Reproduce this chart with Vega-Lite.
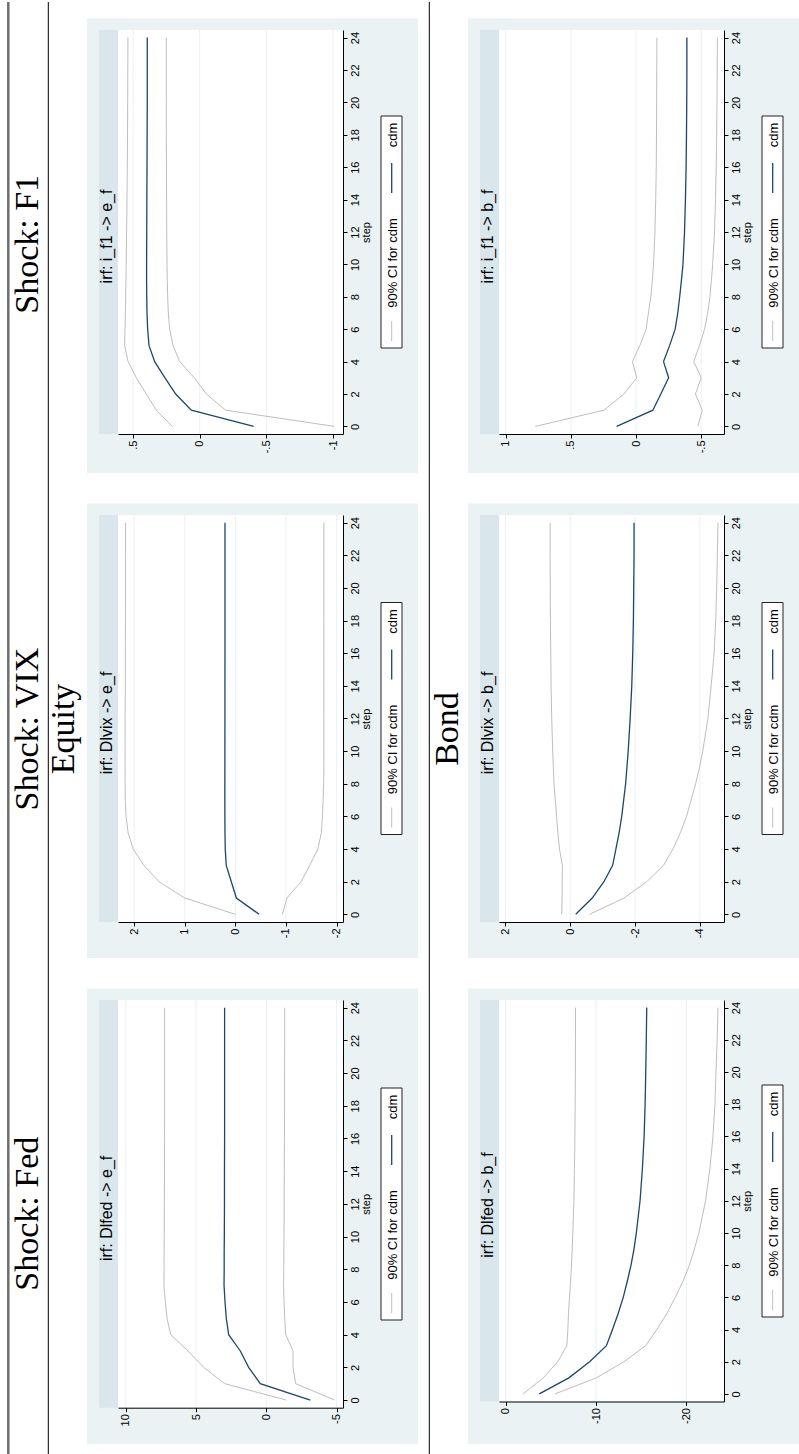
{
  "$schema": "https://vega.github.io/schema/vega-lite/v6.json",
  "background": "white",
  "padding": 0,
  "spacing": 0,
  "config": {
    "view": {"stroke": null},
    "axis": {"domainColor": "#000000", "domainWidth": 1, "tickColor": "#000000", "tickWidth": 1, "tickSize": 4, "labelFont": "Liberation Sans", "labelFontSize": 11, "labelColor": "#000000", "labelPadding": 2, "labelOverlap": false, "labelFlush": false, "grid": false, "titleFont": "Liberation Sans", "titleFontSize": 11, "titleFontWeight": "normal", "titleColor": "#000000"}
  },
  "datasets": {
    "f1e": [
      {"s":0,"hi":0.205,"m":-0.405,"lo":-1.01},{"s":1,"hi":0.325,"m":0.0625,"lo":-0.195},{"s":2,"hi":0.40,"m":0.18,"lo":-0.05},{"s":3,"hi":0.475,"m":0.26,"lo":0.04},{"s":4,"hi":0.537,"m":0.3375,"lo":0.15},{"s":5,"hi":0.5625,"m":0.38,"lo":0.20},{"s":6,"hi":0.56,"m":0.39,"lo":0.225},{"s":7,"hi":0.557,"m":0.395,"lo":0.235},{"s":8,"hi":0.555,"m":0.397,"lo":0.24},{"s":9,"hi":0.553,"m":0.398,"lo":0.243},{"s":10,"hi":0.551,"m":0.398,"lo":0.245},{"s":12,"hi":0.548,"m":0.397,"lo":0.247},{"s":14,"hi":0.545,"m":0.396,"lo":0.248},{"s":16,"hi":0.543,"m":0.395,"lo":0.249},{"s":18,"hi":0.541,"m":0.394,"lo":0.25},{"s":20,"hi":0.54,"m":0.393,"lo":0.25},{"s":22,"hi":0.539,"m":0.393,"lo":0.25},{"s":24,"hi":0.538,"m":0.393,"lo":0.25}
    ],
    "f1b": [
      {"s":0,"hi":0.773,"m":0.149,"lo":-0.474},{"s":1,"hi":0.247,"m":-0.129,"lo":-0.508},{"s":2,"hi":0.093,"m":-0.19,"lo":-0.456},{"s":3,"hi":-0.005,"m":-0.25,"lo":-0.5},{"s":4,"hi":0.028,"m":-0.211,"lo":-0.443},{"s":5,"hi":-0.03,"m":-0.258,"lo":-0.487},{"s":6,"hi":-0.077,"m":-0.30,"lo":-0.526},{"s":7,"hi":-0.095,"m":-0.32,"lo":-0.55},{"s":8,"hi":-0.113,"m":-0.335,"lo":-0.567},{"s":9,"hi":-0.125,"m":-0.348,"lo":-0.578},{"s":10,"hi":-0.134,"m":-0.36,"lo":-0.588},{"s":12,"hi":-0.145,"m":-0.372,"lo":-0.602},{"s":14,"hi":-0.151,"m":-0.379,"lo":-0.61},{"s":16,"hi":-0.155,"m":-0.384,"lo":-0.615},{"s":18,"hi":-0.157,"m":-0.387,"lo":-0.619},{"s":20,"hi":-0.158,"m":-0.389,"lo":-0.621},{"s":22,"hi":-0.159,"m":-0.39,"lo":-0.623},{"s":24,"hi":-0.16,"m":-0.39,"lo":-0.624}
    ],
    "ve": [
      {"s":0,"hi":0.0,"m":-0.47,"lo":-0.93},{"s":1,"hi":1.0,"m":-0.02,"lo":-1.02},{"s":2,"hi":1.51,"m":0.08,"lo":-1.30},{"s":3,"hi":1.81,"m":0.18,"lo":-1.47},{"s":4,"hi":2.02,"m":0.20,"lo":-1.63},{"s":5,"hi":2.12,"m":0.205,"lo":-1.70},{"s":6,"hi":2.16,"m":0.207,"lo":-1.72},{"s":7,"hi":2.175,"m":0.208,"lo":-1.735},{"s":8,"hi":2.18,"m":0.208,"lo":-1.745},{"s":9,"hi":2.18,"m":0.207,"lo":-1.75},{"s":10,"hi":2.18,"m":0.207,"lo":-1.75},{"s":12,"hi":2.18,"m":0.206,"lo":-1.75},{"s":14,"hi":2.175,"m":0.206,"lo":-1.75},{"s":16,"hi":2.175,"m":0.205,"lo":-1.75},{"s":18,"hi":2.172,"m":0.205,"lo":-1.75},{"s":20,"hi":2.171,"m":0.205,"lo":-1.75},{"s":22,"hi":2.17,"m":0.205,"lo":-1.75},{"s":24,"hi":2.17,"m":0.205,"lo":-1.75}
    ],
    "vb": [
      {"s":0,"hi":0.26,"m":-0.17,"lo":-0.60},{"s":1,"hi":0.25,"m":-0.68,"lo":-1.66},{"s":2,"hi":0.25,"m":-1.04,"lo":-2.36},{"s":3,"hi":0.24,"m":-1.31,"lo":-2.88},{"s":4,"hi":0.33,"m":-1.41,"lo":-3.17},{"s":5,"hi":0.38,"m":-1.51,"lo":-3.40},{"s":6,"hi":0.42,"m":-1.59,"lo":-3.59},{"s":7,"hi":0.46,"m":-1.65,"lo":-3.73},{"s":8,"hi":0.50,"m":-1.71,"lo":-3.87},{"s":9,"hi":0.52,"m":-1.75,"lo":-3.99},{"s":10,"hi":0.54,"m":-1.79,"lo":-4.09},{"s":12,"hi":0.57,"m":-1.85,"lo":-4.25},{"s":14,"hi":0.59,"m":-1.90,"lo":-4.35},{"s":16,"hi":0.60,"m":-1.93,"lo":-4.44},{"s":18,"hi":0.61,"m":-1.95,"lo":-4.49},{"s":20,"hi":0.615,"m":-1.96,"lo":-4.52},{"s":22,"hi":0.62,"m":-1.97,"lo":-4.54},{"s":24,"hi":0.62,"m":-1.97,"lo":-4.56}
    ],
    "fe": [
      {"s":0,"hi":-1.42,"m":-3.13,"lo":-4.87},{"s":1,"hi":2.97,"m":0.43,"lo":-2.09},{"s":2,"hi":4.46,"m":1.26,"lo":-1.90},{"s":3,"hi":5.58,"m":1.85,"lo":-1.90},{"s":4,"hi":6.81,"m":2.68,"lo":-1.38},{"s":5,"hi":7.07,"m":2.85,"lo":-1.31},{"s":6,"hi":7.19,"m":2.94,"lo":-1.26},{"s":7,"hi":7.29,"m":3.01,"lo":-1.23},{"s":8,"hi":7.28,"m":3.0,"lo":-1.24},{"s":9,"hi":7.28,"m":3.0,"lo":-1.25},{"s":10,"hi":7.27,"m":2.99,"lo":-1.26},{"s":12,"hi":7.26,"m":2.98,"lo":-1.27},{"s":14,"hi":7.25,"m":2.98,"lo":-1.28},{"s":16,"hi":7.25,"m":2.97,"lo":-1.29},{"s":18,"hi":7.24,"m":2.97,"lo":-1.30},{"s":20,"hi":7.24,"m":2.97,"lo":-1.30},{"s":22,"hi":7.24,"m":2.97,"lo":-1.31},{"s":24,"hi":7.24,"m":2.97,"lo":-1.31}
    ],
    "fb": [
      {"s":0,"hi":-1.93,"m":-3.72,"lo":-5.46},{"s":1,"hi":-4.16,"m":-6.99,"lo":-10.04},{"s":2,"hi":-5.76,"m":-9.29,"lo":-13.09},{"s":3,"hi":-6.77,"m":-11.15,"lo":-15.50},{"s":4,"hi":-6.88,"m":-11.82,"lo":-16.73},{"s":5,"hi":-6.95,"m":-12.45,"lo":-17.84},{"s":6,"hi":-7.06,"m":-13.01,"lo":-18.77},{"s":7,"hi":-7.18,"m":-13.46,"lo":-19.63},{"s":8,"hi":-7.29,"m":-13.87,"lo":-20.33},{"s":9,"hi":-7.36,"m":-14.20,"lo":-20.89},{"s":10,"hi":-7.43,"m":-14.46,"lo":-21.38},{"s":12,"hi":-7.55,"m":-14.87,"lo":-22.12},{"s":14,"hi":-7.61,"m":-15.13,"lo":-22.60},{"s":16,"hi":-7.66,"m":-15.32,"lo":-22.94},{"s":18,"hi":-7.69,"m":-15.43,"lo":-23.16},{"s":20,"hi":-7.71,"m":-15.50,"lo":-23.27},{"s":22,"hi":-7.72,"m":-15.56,"lo":-23.40},{"s":24,"hi":-7.73,"m":-15.61,"lo":-23.49}
    ]
  },
  "hconcat": [
    {
      "width": 87, "height": 1454,
      "resolve": {"scale": {"x": "independent", "y": "independent"}},
      "layer": [
        {"data": {"values": [{}]}, "mark": {"type": "rule", "stroke": "#6E6E6E", "strokeWidth": 2.5},
         "encoding": {"x": {"datum": 8.3, "type": "quantitative", "scale": {"domain": [0, 87], "range": [0, 87], "nice": false}, "axis": null},
                      "y": {"datum": 0, "type": "quantitative", "scale": {"domain": [0, 1454], "range": [0, 1454], "nice": false}, "axis": null},
                      "y2": {"datum": 1454}}},
        {"data": {"values": [{}]}, "mark": {"type": "rule", "stroke": "#000000", "strokeWidth": 1},
         "encoding": {"x": {"datum": 48.3, "type": "quantitative", "scale": {"domain": [0, 87], "range": [0, 87], "nice": false}, "axis": null},
                      "y": {"datum": 0, "type": "quantitative", "scale": {"domain": [0, 1454], "range": [0, 1454], "nice": false}, "axis": null},
                      "y2": {"datum": 1454}}},
        {"data": {"values": [{"shock": "Shock: F1"}, {"shock": "Shock: VIX"}, {"shock": "Shock: Fed"}]},
         "mark": {"type": "text", "angle": 270, "font": "Liberation Serif", "fontSize": 34, "align": "center", "baseline": "alphabetic", "color": "#000000"},
         "encoding": {"x": {"datum": 37.7, "type": "quantitative", "scale": {"domain": [0, 87], "range": [0, 87], "nice": false}, "axis": null},
                      "y": {"field": "shock", "type": "nominal", "sort": null, "scale": {"type": "point", "range": [0, 1454], "padding": 0.5}, "axis": null},
                      "text": {"field": "shock"}}},
        {"data": {"values": [{"row": "Equity"}]},
         "mark": {"type": "text", "angle": 270, "font": "Liberation Serif", "fontSize": 34, "align": "center", "baseline": "alphabetic", "color": "#000000"},
         "encoding": {"x": {"datum": 73.5, "type": "quantitative", "scale": {"domain": [0, 87], "range": [0, 87], "nice": false}, "axis": null},
                      "y": {"field": "row", "type": "nominal", "scale": {"type": "point", "range": [0, 1454], "padding": 0.5}, "axis": null},
                      "text": {"field": "row"}}}
      ]
    },
    {
      "spacing": 0,
      "vconcat": [
        {
          "width": 331, "height": 485,
          "resolve": {"scale": {"x": "independent", "y": "independent"}},
          "layer": [
            {"data": {"values": [{}]}, "layer": [
              {"mark": {"type": "rect", "fill": "#EAF2F3"}, "encoding": {"x": {"datum": 0, "type": "quantitative", "scale": {"domain": [0, 331], "range": [0, 331], "nice": false}, "axis": null}, "x2": {"datum": 331}, "y": {"datum": 16.5, "type": "quantitative", "scale": {"domain": [0, 485], "range": [0, 485], "nice": false}, "axis": null}, "y2": {"datum": 471}}},
              {"mark": {"type": "rect", "fill": "#D9E6EB"}, "encoding": {"x": {"datum": 12, "type": "quantitative"}, "x2": {"datum": 31}, "y": {"datum": 28, "type": "quantitative"}, "y2": {"datum": 432}}},
              {"mark": {"type": "rect", "fill": "#FFFFFF", "stroke": "#222222", "strokeWidth": 1}, "encoding": {"x": {"datum": 294, "type": "quantitative"}, "x2": {"datum": 315}, "y": {"datum": 114, "type": "quantitative"}, "y2": {"datum": 346}}},
              {"mark": {"type": "rule", "stroke": "#BEBEBE", "strokeWidth": 1}, "encoding": {"x": {"datum": 304.7, "type": "quantitative"}, "y": {"datum": 319, "type": "quantitative"}, "y2": {"datum": 339}}},
              {"mark": {"type": "rule", "stroke": "#1A476F", "strokeWidth": 1.3}, "encoding": {"x": {"datum": 304.7, "type": "quantitative"}, "y": {"datum": 161, "type": "quantitative"}, "y2": {"datum": 191}}},
              {"mark": {"type": "text", "angle": 270, "font": "Liberation Sans", "fontSize": 13, "align": "center", "baseline": "alphabetic", "color": "#000000"}, "encoding": {"x": {"datum": 309.5, "type": "quantitative"}, "y": {"datum": 261, "type": "quantitative"}, "text": {"value": "90% CI for cdm"}}},
              {"mark": {"type": "text", "angle": 270, "font": "Liberation Sans", "fontSize": 13, "align": "center", "baseline": "alphabetic", "color": "#000000"}, "encoding": {"x": {"datum": 309.5, "type": "quantitative"}, "y": {"datum": 133, "type": "quantitative"}, "text": {"value": "cdm"}}},
              {"mark": {"type": "text", "angle": 270, "font": "Liberation Sans", "fontSize": 16, "align": "center", "baseline": "alphabetic", "color": "#000000"}, "encoding": {"x": {"datum": 24.5, "type": "quantitative"}, "y": {"datum": 234.5, "type": "quantitative"}, "text": {"value": "irf: i_f1 -> e_f"}}}
            ]},
            {"data": {"name": "f1e"}, "layer": [
              {"data": {"values": [{}]}, "mark": {"type": "rect", "fill": "#FFFFFF"},
               "encoding": {
                 "x": {"datum": -1.075, "type": "quantitative", "scale": {"domain": [-1.075, 0.6125], "range": [256, 31], "nice": false, "zero": false},
                       "axis": {"zindex": 1, "orient": "bottom", "offset": -53, "values": [0.5, 0, -0.5, -1], "labelAngle": 270, "labelAlign": "right", "labelBaseline": "middle", "title": null, "labelExpr": "replace(toString(datum.value), regexp('^(-?)0[.]'), '$1.')"}},
                 "x2": {"datum": 0.6125},
                 "y": {"datum": -0.47, "type": "quantitative", "scale": {"domain": [-0.47, 24.47], "range": [432, 28], "nice": false, "zero": false},
                       "axis": {"zindex": 1, "orient": "right", "offset": -75, "values": [0,2,4,6,8,10,12,14,16,18,20,22,24], "labelAngle": 270, "labelAlign": "center", "labelBaseline": "top", "title": "step", "titleAngle": 270, "titleBaseline": "top", "titlePadding": 0}},
                 "y2": {"datum": 24.47}}},
              {"data": {"values": [{"v": 0.5}, {"v": 0}, {"v": -0.5}, {"v": -1}]}, "mark": {"type": "rule", "stroke": "#EAF2F3", "strokeWidth": 1},
               "encoding": {"x": {"field": "v", "type": "quantitative", "title": null}, "y": {"datum": -0.47, "type": "quantitative"}, "y2": {"datum": 24.47}}},
              {"mark": {"type": "line", "stroke": "#BEBEBE", "strokeWidth": 1}, "encoding": {"x": {"field": "hi", "type": "quantitative", "title": null}, "y": {"field": "s", "type": "quantitative", "title": "step"}, "order": {"field": "s", "type": "quantitative"}}},
              {"mark": {"type": "line", "stroke": "#BEBEBE", "strokeWidth": 1}, "encoding": {"x": {"field": "lo", "type": "quantitative", "title": null}, "y": {"field": "s", "type": "quantitative", "title": "step"}, "order": {"field": "s", "type": "quantitative"}}},
              {"mark": {"type": "line", "stroke": "#1A476F", "strokeWidth": 1.3}, "encoding": {"x": {"field": "m", "type": "quantitative", "title": null}, "y": {"field": "s", "type": "quantitative", "title": "step"}, "order": {"field": "s", "type": "quantitative"}}}
            ]}
          ]
        },
        {
          "width": 331, "height": 485,
          "resolve": {"scale": {"x": "independent", "y": "independent"}},
          "layer": [
            {"data": {"values": [{}]}, "layer": [
              {"mark": {"type": "rect", "fill": "#EAF2F3"}, "encoding": {"x": {"datum": 0, "type": "quantitative", "scale": {"domain": [0, 331], "range": [0, 331], "nice": false}, "axis": null}, "x2": {"datum": 331}, "y": {"datum": 16.5, "type": "quantitative", "scale": {"domain": [0, 485], "range": [0, 485], "nice": false}, "axis": null}, "y2": {"datum": 471}}},
              {"mark": {"type": "rect", "fill": "#D9E6EB"}, "encoding": {"x": {"datum": 12, "type": "quantitative"}, "x2": {"datum": 31}, "y": {"datum": 28, "type": "quantitative"}, "y2": {"datum": 435}}},
              {"mark": {"type": "rect", "fill": "#FFFFFF", "stroke": "#222222", "strokeWidth": 1}, "encoding": {"x": {"datum": 294, "type": "quantitative"}, "x2": {"datum": 315}, "y": {"datum": 115.5, "type": "quantitative"}, "y2": {"datum": 347.5}}},
              {"mark": {"type": "rule", "stroke": "#BEBEBE", "strokeWidth": 1}, "encoding": {"x": {"datum": 304.7, "type": "quantitative"}, "y": {"datum": 320.5, "type": "quantitative"}, "y2": {"datum": 340.5}}},
              {"mark": {"type": "rule", "stroke": "#1A476F", "strokeWidth": 1.3}, "encoding": {"x": {"datum": 304.7, "type": "quantitative"}, "y": {"datum": 162.5, "type": "quantitative"}, "y2": {"datum": 192.5}}},
              {"mark": {"type": "text", "angle": 270, "font": "Liberation Sans", "fontSize": 13, "align": "center", "baseline": "alphabetic", "color": "#000000"}, "encoding": {"x": {"datum": 309.5, "type": "quantitative"}, "y": {"datum": 262.5, "type": "quantitative"}, "text": {"value": "90% CI for cdm"}}},
              {"mark": {"type": "text", "angle": 270, "font": "Liberation Sans", "fontSize": 13, "align": "center", "baseline": "alphabetic", "color": "#000000"}, "encoding": {"x": {"datum": 309.5, "type": "quantitative"}, "y": {"datum": 134.5, "type": "quantitative"}, "text": {"value": "cdm"}}},
              {"mark": {"type": "text", "angle": 270, "font": "Liberation Sans", "fontSize": 16, "align": "center", "baseline": "alphabetic", "color": "#000000"}, "encoding": {"x": {"datum": 24.5, "type": "quantitative"}, "y": {"datum": 236, "type": "quantitative"}, "text": {"value": "irf: Dlvix -> e_f"}}}
            ]},
            {"data": {"name": "ve"}, "layer": [
              {"data": {"values": [{}]}, "mark": {"type": "rect", "fill": "#FFFFFF"},
               "encoding": {
                 "x": {"datum": -2.128, "type": "quantitative", "scale": {"domain": [-2.128, 2.32], "range": [256, 31], "nice": false, "zero": false},
                       "axis": {"zindex": 1, "orient": "bottom", "offset": -50, "values": [2, 1, 0, -1, -2], "labelAngle": 270, "labelAlign": "right", "labelBaseline": "middle", "title": null, "labelExpr": "replace(toString(datum.value), regexp('^(-?)0[.]'), '$1.')"}},
                 "x2": {"datum": 2.32},
                 "y": {"datum": -0.47, "type": "quantitative", "scale": {"domain": [-0.47, 24.47], "range": [435, 28], "nice": false, "zero": false},
                       "axis": {"zindex": 1, "orient": "right", "offset": -75, "values": [0,2,4,6,8,10,12,14,16,18,20,22,24], "labelAngle": 270, "labelAlign": "center", "labelBaseline": "top", "title": "step", "titleAngle": 270, "titleBaseline": "top", "titlePadding": 0}},
                 "y2": {"datum": 24.47}}},
              {"data": {"values": [{"v": 2}, {"v": 1}, {"v": 0}, {"v": -1}, {"v": -2}]}, "mark": {"type": "rule", "stroke": "#EAF2F3", "strokeWidth": 1},
               "encoding": {"x": {"field": "v", "type": "quantitative", "title": null}, "y": {"datum": -0.47, "type": "quantitative"}, "y2": {"datum": 24.47}}},
              {"mark": {"type": "line", "stroke": "#BEBEBE", "strokeWidth": 1}, "encoding": {"x": {"field": "hi", "type": "quantitative", "title": null}, "y": {"field": "s", "type": "quantitative", "title": "step"}, "order": {"field": "s", "type": "quantitative"}}},
              {"mark": {"type": "line", "stroke": "#BEBEBE", "strokeWidth": 1}, "encoding": {"x": {"field": "lo", "type": "quantitative", "title": null}, "y": {"field": "s", "type": "quantitative", "title": "step"}, "order": {"field": "s", "type": "quantitative"}}},
              {"mark": {"type": "line", "stroke": "#1A476F", "strokeWidth": 1.3}, "encoding": {"x": {"field": "m", "type": "quantitative", "title": null}, "y": {"field": "s", "type": "quantitative", "title": "step"}, "order": {"field": "s", "type": "quantitative"}}}
            ]}
          ]
        },
        {
          "width": 331, "height": 485,
          "resolve": {"scale": {"x": "independent", "y": "independent"}},
          "layer": [
            {"data": {"values": [{}]}, "layer": [
              {"mark": {"type": "rect", "fill": "#EAF2F3"}, "encoding": {"x": {"datum": 0, "type": "quantitative", "scale": {"domain": [0, 331], "range": [0, 331], "nice": false}, "axis": null}, "x2": {"datum": 331}, "y": {"datum": 16.5, "type": "quantitative", "scale": {"domain": [0, 485], "range": [0, 485], "nice": false}, "axis": null}, "y2": {"datum": 472}}},
              {"mark": {"type": "rect", "fill": "#D9E6EB"}, "encoding": {"x": {"datum": 12, "type": "quantitative"}, "x2": {"datum": 31}, "y": {"datum": 28, "type": "quantitative"}, "y2": {"datum": 435.7}}},
              {"mark": {"type": "rect", "fill": "#FFFFFF", "stroke": "#222222", "strokeWidth": 1}, "encoding": {"x": {"datum": 294, "type": "quantitative"}, "x2": {"datum": 315}, "y": {"datum": 116, "type": "quantitative"}, "y2": {"datum": 348}}},
              {"mark": {"type": "rule", "stroke": "#BEBEBE", "strokeWidth": 1}, "encoding": {"x": {"datum": 304.7, "type": "quantitative"}, "y": {"datum": 321, "type": "quantitative"}, "y2": {"datum": 341}}},
              {"mark": {"type": "rule", "stroke": "#1A476F", "strokeWidth": 1.3}, "encoding": {"x": {"datum": 304.7, "type": "quantitative"}, "y": {"datum": 163, "type": "quantitative"}, "y2": {"datum": 193}}},
              {"mark": {"type": "text", "angle": 270, "font": "Liberation Sans", "fontSize": 13, "align": "center", "baseline": "alphabetic", "color": "#000000"}, "encoding": {"x": {"datum": 309.5, "type": "quantitative"}, "y": {"datum": 263, "type": "quantitative"}, "text": {"value": "90% CI for cdm"}}},
              {"mark": {"type": "text", "angle": 270, "font": "Liberation Sans", "fontSize": 13, "align": "center", "baseline": "alphabetic", "color": "#000000"}, "encoding": {"x": {"datum": 309.5, "type": "quantitative"}, "y": {"datum": 135, "type": "quantitative"}, "text": {"value": "cdm"}}},
              {"mark": {"type": "text", "angle": 270, "font": "Liberation Sans", "fontSize": 16, "align": "center", "baseline": "alphabetic", "color": "#000000"}, "encoding": {"x": {"datum": 24.5, "type": "quantitative"}, "y": {"datum": 236.4, "type": "quantitative"}, "text": {"value": "irf: Dlfed -> e_f"}}}
            ]},
            {"data": {"name": "fe"}, "layer": [
              {"data": {"values": [{}]}, "mark": {"type": "rect", "fill": "#FFFFFF"},
               "encoding": {
                 "x": {"datum": -5.46, "type": "quantitative", "scale": {"domain": [-5.46, 10.56], "range": [256, 31], "nice": false, "zero": false},
                       "axis": {"zindex": 1, "orient": "bottom", "offset": -49.3, "values": [10, 5, 0, -5], "labelAngle": 270, "labelAlign": "right", "labelBaseline": "middle", "title": null, "labelExpr": "replace(toString(datum.value), regexp('^(-?)0[.]'), '$1.')"}},
                 "x2": {"datum": 10.56},
                 "y": {"datum": -0.47, "type": "quantitative", "scale": {"domain": [-0.47, 24.47], "range": [435.7, 28], "nice": false, "zero": false},
                       "axis": {"zindex": 1, "orient": "right", "offset": -75, "values": [0,2,4,6,8,10,12,14,16,18,20,22,24], "labelAngle": 270, "labelAlign": "center", "labelBaseline": "top", "title": "step", "titleAngle": 270, "titleBaseline": "top", "titlePadding": 0}},
                 "y2": {"datum": 24.47}}},
              {"data": {"values": [{"v": 10}, {"v": 5}, {"v": 0}, {"v": -5}]}, "mark": {"type": "rule", "stroke": "#EAF2F3", "strokeWidth": 1},
               "encoding": {"x": {"field": "v", "type": "quantitative", "title": null}, "y": {"datum": -0.47, "type": "quantitative"}, "y2": {"datum": 24.47}}},
              {"mark": {"type": "line", "stroke": "#BEBEBE", "strokeWidth": 1}, "encoding": {"x": {"field": "hi", "type": "quantitative", "title": null}, "y": {"field": "s", "type": "quantitative", "title": "step"}, "order": {"field": "s", "type": "quantitative"}}},
              {"mark": {"type": "line", "stroke": "#BEBEBE", "strokeWidth": 1}, "encoding": {"x": {"field": "lo", "type": "quantitative", "title": null}, "y": {"field": "s", "type": "quantitative", "title": "step"}, "order": {"field": "s", "type": "quantitative"}}},
              {"mark": {"type": "line", "stroke": "#1A476F", "strokeWidth": 1.3}, "encoding": {"x": {"field": "m", "type": "quantitative", "title": null}, "y": {"field": "s", "type": "quantitative", "title": "step"}, "order": {"field": "s", "type": "quantitative"}}}
            ]}
          ]
        }
      ]
    },
    {
      "width": 50, "height": 1454,
      "resolve": {"scale": {"x": "independent", "y": "independent"}},
      "layer": [
        {"data": {"values": [{}]}, "mark": {"type": "rule", "stroke": "#000000", "strokeWidth": 1},
         "encoding": {"x": {"datum": 11.3, "type": "quantitative", "scale": {"domain": [0, 50], "range": [0, 50], "nice": false}, "axis": null},
                      "y": {"datum": 0, "type": "quantitative", "scale": {"domain": [0, 1454], "range": [0, 1454], "nice": false}, "axis": null},
                      "y2": {"datum": 1454}}},
        {"data": {"values": [{"row": "Bond"}]},
         "mark": {"type": "text", "angle": 270, "font": "Liberation Serif", "fontSize": 34, "align": "center", "baseline": "alphabetic", "color": "#000000"},
         "encoding": {"x": {"datum": 40.3, "type": "quantitative", "scale": {"domain": [0, 50], "range": [0, 50], "nice": false}, "axis": null},
                      "y": {"field": "row", "type": "nominal", "scale": {"type": "point", "range": [0, 1454], "padding": 0.5}, "axis": null},
                      "text": {"field": "row"}}}
      ]
    },
    {
      "spacing": 0,
      "vconcat": [
        {
          "width": 331, "height": 485,
          "resolve": {"scale": {"x": "independent", "y": "independent"}},
          "layer": [
            {"data": {"values": [{}]}, "layer": [
              {"mark": {"type": "rect", "fill": "#EAF2F3"}, "encoding": {"x": {"datum": 0, "type": "quantitative", "scale": {"domain": [0, 331], "range": [0, 331], "nice": false}, "axis": null}, "x2": {"datum": 331}, "y": {"datum": 16.5, "type": "quantitative", "scale": {"domain": [0, 485], "range": [0, 485], "nice": false}, "axis": null}, "y2": {"datum": 471}}},
              {"mark": {"type": "rect", "fill": "#D9E6EB"}, "encoding": {"x": {"datum": 12, "type": "quantitative"}, "x2": {"datum": 31}, "y": {"datum": 28, "type": "quantitative"}, "y2": {"datum": 432}}},
              {"mark": {"type": "rect", "fill": "#FFFFFF", "stroke": "#222222", "strokeWidth": 1}, "encoding": {"x": {"datum": 294, "type": "quantitative"}, "x2": {"datum": 315}, "y": {"datum": 114, "type": "quantitative"}, "y2": {"datum": 346}}},
              {"mark": {"type": "rule", "stroke": "#BEBEBE", "strokeWidth": 1}, "encoding": {"x": {"datum": 304.7, "type": "quantitative"}, "y": {"datum": 319, "type": "quantitative"}, "y2": {"datum": 339}}},
              {"mark": {"type": "rule", "stroke": "#1A476F", "strokeWidth": 1.3}, "encoding": {"x": {"datum": 304.7, "type": "quantitative"}, "y": {"datum": 161, "type": "quantitative"}, "y2": {"datum": 191}}},
              {"mark": {"type": "text", "angle": 270, "font": "Liberation Sans", "fontSize": 13, "align": "center", "baseline": "alphabetic", "color": "#000000"}, "encoding": {"x": {"datum": 309.5, "type": "quantitative"}, "y": {"datum": 261, "type": "quantitative"}, "text": {"value": "90% CI for cdm"}}},
              {"mark": {"type": "text", "angle": 270, "font": "Liberation Sans", "fontSize": 13, "align": "center", "baseline": "alphabetic", "color": "#000000"}, "encoding": {"x": {"datum": 309.5, "type": "quantitative"}, "y": {"datum": 133, "type": "quantitative"}, "text": {"value": "cdm"}}},
              {"mark": {"type": "text", "angle": 270, "font": "Liberation Sans", "fontSize": 16, "align": "center", "baseline": "alphabetic", "color": "#000000"}, "encoding": {"x": {"datum": 24.5, "type": "quantitative"}, "y": {"datum": 234.5, "type": "quantitative"}, "text": {"value": "irf: i_f1 -> b_f"}}}
            ]},
            {"data": {"name": "f1b"}, "layer": [
              {"data": {"values": [{}]}, "mark": {"type": "rect", "fill": "#FFFFFF"},
               "encoding": {
                 "x": {"datum": -0.675, "type": "quantitative", "scale": {"domain": [-0.675, 1.052], "range": [256, 31], "nice": false, "zero": false},
                       "axis": {"zindex": 1, "orient": "bottom", "offset": -53, "values": [1, 0.5, 0, -0.5], "labelAngle": 270, "labelAlign": "right", "labelBaseline": "middle", "title": null, "labelExpr": "replace(toString(datum.value), regexp('^(-?)0[.]'), '$1.')"}},
                 "x2": {"datum": 1.052},
                 "y": {"datum": -0.47, "type": "quantitative", "scale": {"domain": [-0.47, 24.47], "range": [432, 28], "nice": false, "zero": false},
                       "axis": {"zindex": 1, "orient": "right", "offset": -75, "values": [0,2,4,6,8,10,12,14,16,18,20,22,24], "labelAngle": 270, "labelAlign": "center", "labelBaseline": "top", "title": "step", "titleAngle": 270, "titleBaseline": "top", "titlePadding": 0}},
                 "y2": {"datum": 24.47}}},
              {"data": {"values": [{"v": 1}, {"v": 0.5}, {"v": 0}, {"v": -0.5}]}, "mark": {"type": "rule", "stroke": "#EAF2F3", "strokeWidth": 1},
               "encoding": {"x": {"field": "v", "type": "quantitative", "title": null}, "y": {"datum": -0.47, "type": "quantitative"}, "y2": {"datum": 24.47}}},
              {"mark": {"type": "line", "stroke": "#BEBEBE", "strokeWidth": 1}, "encoding": {"x": {"field": "hi", "type": "quantitative", "title": null}, "y": {"field": "s", "type": "quantitative", "title": "step"}, "order": {"field": "s", "type": "quantitative"}}},
              {"mark": {"type": "line", "stroke": "#BEBEBE", "strokeWidth": 1}, "encoding": {"x": {"field": "lo", "type": "quantitative", "title": null}, "y": {"field": "s", "type": "quantitative", "title": "step"}, "order": {"field": "s", "type": "quantitative"}}},
              {"mark": {"type": "line", "stroke": "#1A476F", "strokeWidth": 1.3}, "encoding": {"x": {"field": "m", "type": "quantitative", "title": null}, "y": {"field": "s", "type": "quantitative", "title": "step"}, "order": {"field": "s", "type": "quantitative"}}}
            ]}
          ]
        },
        {
          "width": 331, "height": 485,
          "resolve": {"scale": {"x": "independent", "y": "independent"}},
          "layer": [
            {"data": {"values": [{}]}, "layer": [
              {"mark": {"type": "rect", "fill": "#EAF2F3"}, "encoding": {"x": {"datum": 0, "type": "quantitative", "scale": {"domain": [0, 331], "range": [0, 331], "nice": false}, "axis": null}, "x2": {"datum": 331}, "y": {"datum": 16.5, "type": "quantitative", "scale": {"domain": [0, 485], "range": [0, 485], "nice": false}, "axis": null}, "y2": {"datum": 471}}},
              {"mark": {"type": "rect", "fill": "#D9E6EB"}, "encoding": {"x": {"datum": 12, "type": "quantitative"}, "x2": {"datum": 31}, "y": {"datum": 28, "type": "quantitative"}, "y2": {"datum": 435}}},
              {"mark": {"type": "rect", "fill": "#FFFFFF", "stroke": "#222222", "strokeWidth": 1}, "encoding": {"x": {"datum": 294, "type": "quantitative"}, "x2": {"datum": 315}, "y": {"datum": 115.5, "type": "quantitative"}, "y2": {"datum": 347.5}}},
              {"mark": {"type": "rule", "stroke": "#BEBEBE", "strokeWidth": 1}, "encoding": {"x": {"datum": 304.7, "type": "quantitative"}, "y": {"datum": 320.5, "type": "quantitative"}, "y2": {"datum": 340.5}}},
              {"mark": {"type": "rule", "stroke": "#1A476F", "strokeWidth": 1.3}, "encoding": {"x": {"datum": 304.7, "type": "quantitative"}, "y": {"datum": 162.5, "type": "quantitative"}, "y2": {"datum": 192.5}}},
              {"mark": {"type": "text", "angle": 270, "font": "Liberation Sans", "fontSize": 13, "align": "center", "baseline": "alphabetic", "color": "#000000"}, "encoding": {"x": {"datum": 309.5, "type": "quantitative"}, "y": {"datum": 262.5, "type": "quantitative"}, "text": {"value": "90% CI for cdm"}}},
              {"mark": {"type": "text", "angle": 270, "font": "Liberation Sans", "fontSize": 13, "align": "center", "baseline": "alphabetic", "color": "#000000"}, "encoding": {"x": {"datum": 309.5, "type": "quantitative"}, "y": {"datum": 134.5, "type": "quantitative"}, "text": {"value": "cdm"}}},
              {"mark": {"type": "text", "angle": 270, "font": "Liberation Sans", "fontSize": 16, "align": "center", "baseline": "alphabetic", "color": "#000000"}, "encoding": {"x": {"datum": 24.5, "type": "quantitative"}, "y": {"datum": 236, "type": "quantitative"}, "text": {"value": "irf: Dlvix -> b_f"}}}
            ]},
            {"data": {"name": "vb"}, "layer": [
              {"data": {"values": [{}]}, "mark": {"type": "rect", "fill": "#FFFFFF"},
               "encoding": {
                 "x": {"datum": -4.746, "type": "quantitative", "scale": {"domain": [-4.746, 2.197], "range": [256, 31], "nice": false, "zero": false},
                       "axis": {"zindex": 1, "orient": "bottom", "offset": -50, "values": [2, 0, -2, -4], "labelAngle": 270, "labelAlign": "right", "labelBaseline": "middle", "title": null, "labelExpr": "replace(toString(datum.value), regexp('^(-?)0[.]'), '$1.')"}},
                 "x2": {"datum": 2.197},
                 "y": {"datum": -0.47, "type": "quantitative", "scale": {"domain": [-0.47, 24.47], "range": [435, 28], "nice": false, "zero": false},
                       "axis": {"zindex": 1, "orient": "right", "offset": -75, "values": [0,2,4,6,8,10,12,14,16,18,20,22,24], "labelAngle": 270, "labelAlign": "center", "labelBaseline": "top", "title": "step", "titleAngle": 270, "titleBaseline": "top", "titlePadding": 0}},
                 "y2": {"datum": 24.47}}},
              {"data": {"values": [{"v": 2}, {"v": 0}, {"v": -2}, {"v": -4}]}, "mark": {"type": "rule", "stroke": "#EAF2F3", "strokeWidth": 1},
               "encoding": {"x": {"field": "v", "type": "quantitative", "title": null}, "y": {"datum": -0.47, "type": "quantitative"}, "y2": {"datum": 24.47}}},
              {"mark": {"type": "line", "stroke": "#BEBEBE", "strokeWidth": 1}, "encoding": {"x": {"field": "hi", "type": "quantitative", "title": null}, "y": {"field": "s", "type": "quantitative", "title": "step"}, "order": {"field": "s", "type": "quantitative"}}},
              {"mark": {"type": "line", "stroke": "#BEBEBE", "strokeWidth": 1}, "encoding": {"x": {"field": "lo", "type": "quantitative", "title": null}, "y": {"field": "s", "type": "quantitative", "title": "step"}, "order": {"field": "s", "type": "quantitative"}}},
              {"mark": {"type": "line", "stroke": "#1A476F", "strokeWidth": 1.3}, "encoding": {"x": {"field": "m", "type": "quantitative", "title": null}, "y": {"field": "s", "type": "quantitative", "title": "step"}, "order": {"field": "s", "type": "quantitative"}}}
            ]}
          ]
        },
        {
          "width": 331, "height": 485,
          "resolve": {"scale": {"x": "independent", "y": "independent"}},
          "layer": [
            {"data": {"values": [{}]}, "layer": [
              {"mark": {"type": "rect", "fill": "#EAF2F3"}, "encoding": {"x": {"datum": 0, "type": "quantitative", "scale": {"domain": [0, 331], "range": [0, 331], "nice": false}, "axis": null}, "x2": {"datum": 331}, "y": {"datum": 16.5, "type": "quantitative", "scale": {"domain": [0, 485], "range": [0, 485], "nice": false}, "axis": null}, "y2": {"datum": 472}}},
              {"mark": {"type": "rect", "fill": "#D9E6EB"}, "encoding": {"x": {"datum": 12, "type": "quantitative"}, "x2": {"datum": 31}, "y": {"datum": 28, "type": "quantitative"}, "y2": {"datum": 429.5}}},
              {"mark": {"type": "rect", "fill": "#FFFFFF", "stroke": "#222222", "strokeWidth": 1}, "encoding": {"x": {"datum": 294, "type": "quantitative"}, "x2": {"datum": 315}, "y": {"datum": 113, "type": "quantitative"}, "y2": {"datum": 345}}},
              {"mark": {"type": "rule", "stroke": "#BEBEBE", "strokeWidth": 1}, "encoding": {"x": {"datum": 304.7, "type": "quantitative"}, "y": {"datum": 318, "type": "quantitative"}, "y2": {"datum": 338}}},
              {"mark": {"type": "rule", "stroke": "#1A476F", "strokeWidth": 1.3}, "encoding": {"x": {"datum": 304.7, "type": "quantitative"}, "y": {"datum": 160, "type": "quantitative"}, "y2": {"datum": 190}}},
              {"mark": {"type": "text", "angle": 270, "font": "Liberation Sans", "fontSize": 13, "align": "center", "baseline": "alphabetic", "color": "#000000"}, "encoding": {"x": {"datum": 309.5, "type": "quantitative"}, "y": {"datum": 260, "type": "quantitative"}, "text": {"value": "90% CI for cdm"}}},
              {"mark": {"type": "text", "angle": 270, "font": "Liberation Sans", "fontSize": 13, "align": "center", "baseline": "alphabetic", "color": "#000000"}, "encoding": {"x": {"datum": 309.5, "type": "quantitative"}, "y": {"datum": 132, "type": "quantitative"}, "text": {"value": "cdm"}}},
              {"mark": {"type": "text", "angle": 270, "font": "Liberation Sans", "fontSize": 16, "align": "center", "baseline": "alphabetic", "color": "#000000"}, "encoding": {"x": {"datum": 24.5, "type": "quantitative"}, "y": {"datum": 233, "type": "quantitative"}, "text": {"value": "irf: Dlfed -> b_f"}}}
            ]},
            {"data": {"name": "fb"}, "layer": [
              {"data": {"values": [{}]}, "mark": {"type": "rect", "fill": "#FFFFFF"},
               "encoding": {
                 "x": {"datum": -24.16, "type": "quantitative", "scale": {"domain": [-24.16, 0.74], "range": [256, 31], "nice": false, "zero": false},
                       "axis": {"zindex": 1, "orient": "bottom", "offset": -55.5, "values": [0, -10, -20], "labelAngle": 270, "labelAlign": "right", "labelBaseline": "middle", "title": null, "labelExpr": "replace(toString(datum.value), regexp('^(-?)0[.]'), '$1.')"}},
                 "x2": {"datum": 0.74},
                 "y": {"datum": -0.47, "type": "quantitative", "scale": {"domain": [-0.47, 24.47], "range": [429.5, 28], "nice": false, "zero": false},
                       "axis": {"zindex": 1, "orient": "right", "offset": -75, "values": [0,2,4,6,8,10,12,14,16,18,20,22,24], "labelAngle": 270, "labelAlign": "center", "labelBaseline": "top", "title": "step", "titleAngle": 270, "titleBaseline": "top", "titlePadding": 0}},
                 "y2": {"datum": 24.47}}},
              {"data": {"values": [{"v": 0}, {"v": -10}, {"v": -20}]}, "mark": {"type": "rule", "stroke": "#EAF2F3", "strokeWidth": 1},
               "encoding": {"x": {"field": "v", "type": "quantitative", "title": null}, "y": {"datum": -0.47, "type": "quantitative"}, "y2": {"datum": 24.47}}},
              {"mark": {"type": "line", "stroke": "#BEBEBE", "strokeWidth": 1}, "encoding": {"x": {"field": "hi", "type": "quantitative", "title": null}, "y": {"field": "s", "type": "quantitative", "title": "step"}, "order": {"field": "s", "type": "quantitative"}}},
              {"mark": {"type": "line", "stroke": "#BEBEBE", "strokeWidth": 1}, "encoding": {"x": {"field": "lo", "type": "quantitative", "title": null}, "y": {"field": "s", "type": "quantitative", "title": "step"}, "order": {"field": "s", "type": "quantitative"}}},
              {"mark": {"type": "line", "stroke": "#1A476F", "strokeWidth": 1.3}, "encoding": {"x": {"field": "m", "type": "quantitative", "title": null}, "y": {"field": "s", "type": "quantitative", "title": "step"}, "order": {"field": "s", "type": "quantitative"}}}
            ]}
          ]
        }
      ]
    }
  ]
}
